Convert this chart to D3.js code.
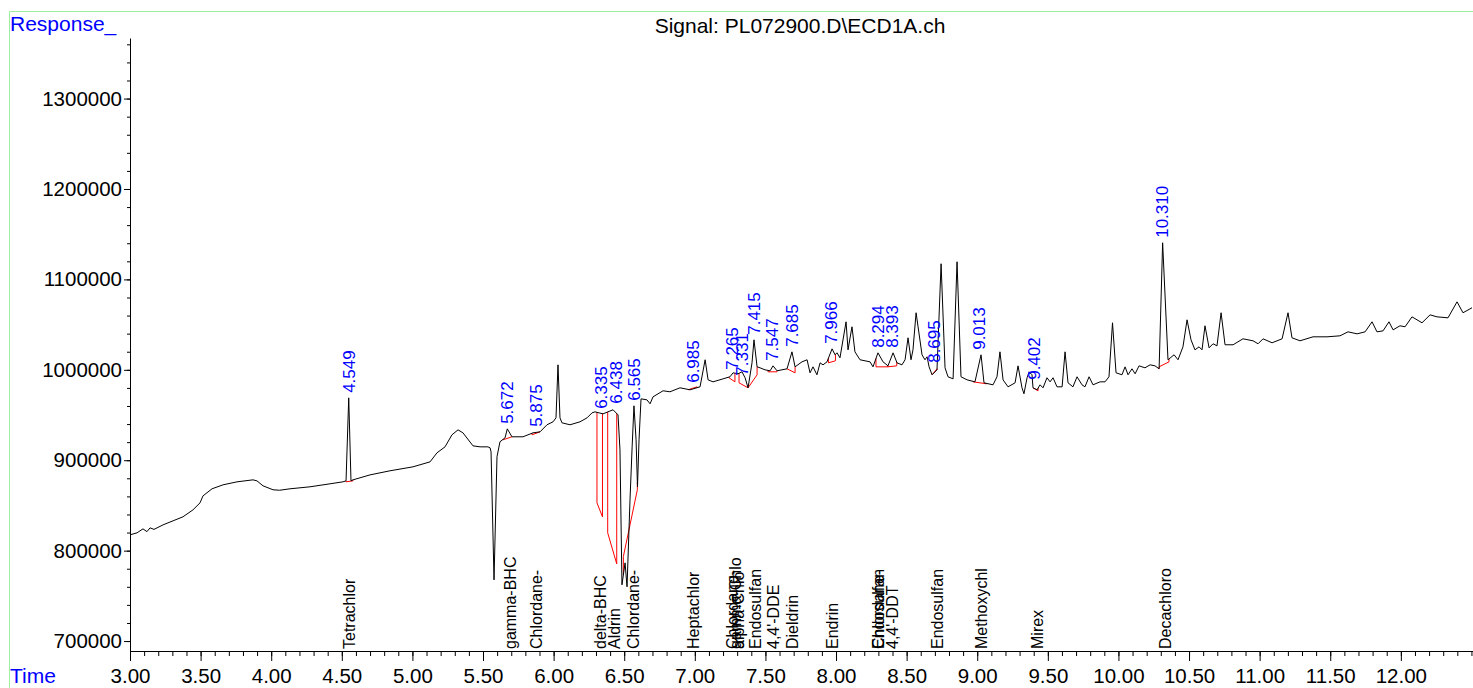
<!DOCTYPE html>
<html>
<head>
<meta charset="utf-8">
<script src="https://cdnjs.cloudflare.com/ajax/libs/d3/7.8.5/d3.min.js"></script>
<style>
body { margin: 0; background: #fff; overflow: hidden; }
text { font-family: "Liberation Sans", Arial, sans-serif; }
</style>
</head>
<body>
<script>
// retention time (min) and detector response
var times = [3.000, 3.050, 3.092, 3.120, 3.142, 3.170, 3.234, 3.305, 3.375, 3.446, 3.496, 3.517, 3.581, 3.659, 3.758, 3.871, 3.899, 3.942, 4.013, 4.060,
    4.133, 4.275, 4.416, 4.508, 4.530, 4.549, 4.565, 4.579, 4.700, 4.841, 5.004, 5.125, 5.174, 5.231, 5.280, 5.323, 5.358, 5.429, 5.479, 5.535,
    5.550, 5.557, 5.578, 5.599, 5.620, 5.656, 5.672, 5.705, 5.783, 5.854, 5.904, 5.953, 5.996, 6.017, 6.031, 6.045, 6.059, 6.116, 6.187, 6.237,
    6.272, 6.293, 6.350, 6.421, 6.456, 6.470, 6.484, 6.506, 6.520, 6.541, 6.556, 6.569, 6.584, 6.594, 6.605, 6.619, 6.661, 6.683, 6.704, 6.775,
    6.824, 6.895, 6.966, 7.037, 7.073, 7.094, 7.129, 7.200, 7.249, 7.271, 7.306, 7.334, 7.356, 7.377, 7.405, 7.419, 7.441, 7.462, 7.497, 7.533,
    7.554, 7.582, 7.653, 7.688, 7.710, 7.759, 7.795, 7.816, 7.837, 7.865, 7.887, 7.908, 7.936, 7.972, 7.993, 8.007, 8.028, 8.071, 8.085, 8.113,
    8.134, 8.170, 8.241, 8.262, 8.297, 8.333, 8.368, 8.404, 8.432, 8.467, 8.489, 8.510, 8.531, 8.545, 8.567, 8.581, 8.609, 8.630, 8.645, 8.659,
    8.680, 8.715, 8.744, 8.772, 8.793, 8.829, 8.857, 8.885, 8.928, 8.984, 9.027, 9.048, 9.112, 9.140, 9.161, 9.183, 9.218, 9.268, 9.289, 9.317,
    9.331, 9.353, 9.367, 9.388, 9.395, 9.424, 9.445, 9.466, 9.494, 9.516, 9.537, 9.565, 9.601, 9.622, 9.643, 9.678, 9.707, 9.742, 9.763, 9.792,
    9.820, 9.870, 9.905, 9.933, 9.958, 9.983, 10.025, 10.047, 10.068, 10.096, 10.118, 10.146, 10.188, 10.224, 10.259, 10.288, 10.313, 10.351, 10.394, 10.422,
    10.457, 10.486, 10.514, 10.542, 10.571, 10.592, 10.613, 10.642, 10.670, 10.698, 10.727, 10.755, 10.812, 10.882, 10.953, 10.989, 11.024, 11.088, 11.159, 11.201,
    11.229, 11.286, 11.378, 11.477, 11.569, 11.626, 11.690, 11.747, 11.796, 11.831, 11.874, 11.916, 11.945, 11.994, 12.030, 12.079, 12.150, 12.207, 12.256, 12.334,
    12.398, 12.440, 12.504];

var responses = [817500, 819700, 824100, 821000, 825200, 823500, 828500, 833000, 837400, 845100, 852900, 860600, 868400, 872800, 876100, 878300, 877200, 871700, 867300, 866800,
    868400, 870600, 873900, 876100, 877200, 969000, 877200, 878300, 883800, 888300, 892700, 898200, 908200, 914800, 928100, 933600, 930300, 915900, 914800, 914800,
    913700, 909300, 767700, 903800, 920400, 924800, 934700, 925900, 925900, 930300, 931400, 939200, 942500, 946900, 1005500, 946900, 941400, 939200, 942500, 946900,
    952400, 953500, 951300, 955800, 950200, 911500, 762200, 786500, 760000, 856200, 914800, 960200, 922600, 870600, 922600, 967900, 966800, 962400, 970100, 976800,
    975700, 980100, 977900, 981200, 1011100, 988900, 986700, 990000, 992300, 996700, 995600, 997800, 991200, 980100, 1007700, 1033200, 1003300, 1002200, 1000000, 998900,
    1004400, 998900, 1001100, 1019900, 1003300, 1008800, 1011100, 996700, 1003300, 994500, 1007700, 1005500, 1008800, 1023200, 1016600, 1018800, 1013300, 1053100, 1022100, 1047600,
    1019900, 1011100, 1008800, 1003300, 1018800, 1008800, 1004400, 1018800, 1007700, 1005500, 1011100, 1035400, 1011100, 1022100, 1063100, 1047600, 1016600, 1011100, 1014400, 1003300,
    994500, 1000000, 1117300, 1002200, 992300, 990000, 1119500, 992300, 988900, 986700, 1016600, 985600, 983400, 992300, 1019900, 988900, 981200, 985600, 1004400, 980100,
    973500, 991200, 997800, 994500, 980100, 977900, 983400, 980100, 991200, 986700, 991200, 981200, 981200, 1019900, 985600, 981200, 992300, 983400, 981200, 992300,
    983400, 986700, 986700, 992300, 1052000, 996700, 994500, 1003300, 994500, 1001100, 995600, 1004400, 1002200, 1005500, 1004400, 1001100, 1140500, 1011100, 1016600, 1011100,
    1025400, 1055300, 1033200, 1022100, 1025400, 1022100, 1048700, 1024300, 1028800, 1026500, 1063100, 1027700, 1027700, 1034300, 1032100, 1028800, 1034300, 1029900, 1034300, 1063100,
    1035400, 1032100, 1036500, 1036500, 1037600, 1042000, 1039800, 1042000, 1053100, 1042000, 1043100, 1053100, 1044200, 1048700, 1047600, 1058600, 1052000, 1060800, 1058600, 1057500,
    1075200, 1063100, 1068600];

// integrated peaks: label, apex response
var peakLabels = ["4.549", "5.672", "5.875", "6.335", "6.438", "6.565", "6.985", "7.265", "7.331", "7.415",
    "7.547", "7.685", "7.966", "8.294", "8.393", "8.695", "9.013", "9.402", "10.310"];
var peakTops = [969000, 934700, 931400, 951300, 957000, 960200, 980100, 994500, 988000, 1033200,
    1004400, 1019900, 1023200, 1018800, 1018800, 1002200, 1016600, 983400, 1140500];

// baselines drawn under each integrated peak (start time/response, end time/response)
var baseT1 = [4.530, 5.642, 5.847, 6.307, 6.383, 6.494, 6.952, 7.242, 7.313, 7.377, 7.518, 7.653, 7.946, 8.283, 8.368, 8.680, 8.970, 9.395, 10.288];
var baseR1 = [876100, 922600, 928100, 852900, 819700, 793500, 977900, 991200, 985600, 980100, 997800, 1001100, 1007700, 1003300, 1003300, 994500, 986700, 980100, 1003300];
var baseT2 = [4.579, 5.705, 5.904, 6.346, 6.447, 6.593, 7.016, 7.284, 7.377, 7.441, 7.582, 7.710, 7.996, 8.368, 8.430, 8.715, 9.069, 9.431, 10.358];
var baseR2 = [877200, 925900, 931400, 837400, 785400, 867300, 981200, 986700, 980100, 994500, 997800, 996700, 1010000, 1003300, 1004400, 1001100, 984500, 976800, 1008800];

// expected retention times of the calibrated compounds
var compoundNames = ["Tetrachlor", "gamma-BHC", "Chlordane-", "delta-BHC", "Aldrin", "Chlordane-", "Heptachlor",
    "Chlordane-", "gamma-Chlo", "alpha-Chlo", "Endosulfan", "4,4'-DDE", "Dieldrin", "Endrin",
    "Endosulfan", "Chlordane-", "4,4'-DDT", "Endosulfan", "Methoxychl", "Mirex", "Decachloro"];
var compoundTimes = [4.550, 5.691, 5.880, 6.329, 6.428, 6.566, 6.990,
    7.262, 7.285, 7.310, 7.426, 7.557, 7.692, 7.975,
    8.296, 8.302, 8.400, 8.718, 9.025, 9.424, 10.330];

var xTickValues = [3.0, 3.5, 4.0, 4.5, 5.0, 5.5, 6.0, 6.5, 7.0, 7.5, 8.0, 8.5, 9.0, 9.5, 10.0, 10.5, 11.0, 11.5, 12.0];
var yTickValues = [700000, 800000, 900000, 1000000, 1100000, 1200000, 1300000];

var width = 1473,
    height = 688;

var x = d3.scaleLinear().domain([3.0, 12.511]).range([130, 1473]);
var y = d3.scaleLinear().domain([689000, 1367000]).range([651, 38]);

var svg = d3.select("body").append("svg")
    .attr("width", width)
    .attr("height", height);

// light green frame
svg.append("line").attr("x1", 9.5).attr("x2", width).attr("y1", 11.5).attr("y2", 11.5)
    .attr("stroke", "#9ef09e").attr("stroke-width", 1);
svg.append("line").attr("x1", 9.5).attr("x2", 9.5).attr("y1", 11.5).attr("y2", height)
    .attr("stroke", "#9ef09e").attr("stroke-width", 1);

svg.append("text")
    .attr("x", 800).attr("y", 33)
    .attr("text-anchor", "middle")
    .style("font-size", "21px")
    .text("Signal: PL072900.D\\ECD1A.ch");

svg.append("text")
    .attr("x", 10).attr("y", 31)
    .attr("fill", "#0000ff")
    .style("font-size", "21px")
    .text("Response_");

svg.append("text")
    .attr("x", 10).attr("y", 683)
    .attr("fill", "#0000ff")
    .style("font-size", "21px")
    .text("Time");

// axes
var xMinor = svg.append("g")
    .attr("transform", "translate(0,651)")
    .call(d3.axisBottom(x).tickValues(d3.range(30, 126).map(function(v) { return v / 10; }))
        .tickSize(5).tickSizeOuter(0).tickFormat(""));
xMinor.select(".domain").remove();

var xAxis = svg.append("g")
    .attr("transform", "translate(0,651)")
    .call(d3.axisBottom(x).tickValues(xTickValues).tickSize(10).tickSizeOuter(0).tickPadding(7)
        .tickFormat(d3.format(".2f")));
xAxis.selectAll("text")
    .style("font-size", "20.5px")
    .style("font-family", "'Liberation Sans', Arial, sans-serif")
    .attr("fill", "#000");

var yMinor = svg.append("g")
    .attr("transform", "translate(130,0)")
    .call(d3.axisLeft(y).tickValues(d3.range(35, 69).map(function(v) { return v * 20000; }))
        .tickSize(3).tickSizeOuter(0).tickFormat(""));
yMinor.select(".domain").remove();

var yAxis = svg.append("g")
    .attr("transform", "translate(130,0)")
    .call(d3.axisLeft(y).tickValues(yTickValues).tickSize(6).tickSizeOuter(0).tickPadding(2)
        .tickFormat(d3.format("d")));
yAxis.selectAll("text")
    .style("font-size", "20.5px")
    .style("font-family", "'Liberation Sans', Arial, sans-serif")
    .attr("fill", "#000");

svg.selectAll(".domain").attr("stroke", "#000");
svg.selectAll(".tick line").attr("stroke", "#000");

// compound names along the bottom
svg.append("g").selectAll("text")
    .data(compoundNames)
    .enter()
    .append("text")
    .attr("transform", function(d, i) {
        return "translate(" + x(compoundTimes[i]) + ",649) rotate(-90)";
    })
    .attr("dy", "0.36em")
    .style("font-size", "16px")
    .attr("fill", "#000")
    .text(function(d) { return d; });

// trace
var points = times.map(function(t, i) { return [t, responses[i]]; });

function traceAt(t) {
    var i = d3.bisectLeft(times, t);
    if (i <= 0) return responses[0];
    if (i >= times.length) return responses[times.length - 1];
    var t0 = times[i - 1], t1 = times[i];
    var f = (t - t0) / (t1 - t0);
    return responses[i - 1] + f * (responses[i] - responses[i - 1]);
}

// red integration baselines with drop lines
var base = svg.append("g").attr("stroke", "#ff0000").attr("stroke-width", 1).attr("fill", "none");
peakLabels.forEach(function(p, i) {
    base.append("path").attr("d",
        "M" + x(baseT1[i]) + "," + y(traceAt(baseT1[i])) +
        "L" + x(baseT1[i]) + "," + y(baseR1[i]) +
        "L" + x(baseT2[i]) + "," + y(baseR2[i]) +
        "L" + x(baseT2[i]) + "," + y(traceAt(baseT2[i])));
});

svg.append("path")
    .datum(points)
    .attr("fill", "none")
    .attr("stroke", "#000")
    .attr("stroke-width", 1)
    .attr("stroke-linejoin", "round")
    .attr("d", d3.line().x(function(d) { return x(d[0]); }).y(function(d) { return y(d[1]); }));

// retention time labels
svg.append("g").selectAll("text")
    .data(peakLabels)
    .enter()
    .append("text")
    .attr("transform", function(d, i) {
        return "translate(" + x(+d) + "," + (y(peakTops[i]) - 5) + ") rotate(-90)";
    })
    .attr("dy", "0.36em")
    .style("font-size", "17px")
    .attr("fill", "#0000ff")
    .text(function(d) { return d; });
</script>
</body>
</html>
